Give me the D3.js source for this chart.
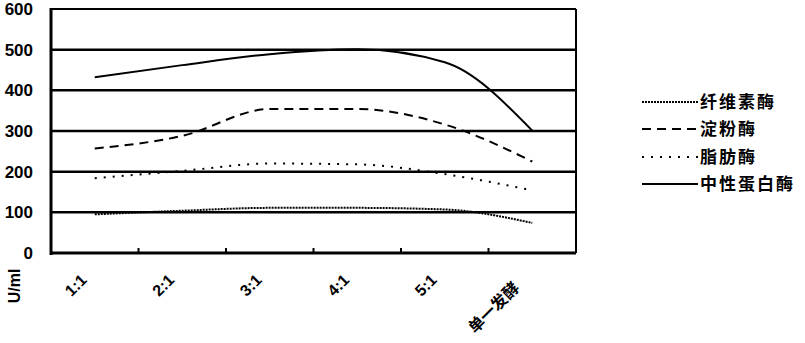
<!DOCTYPE html>
<html>
<head>
<meta charset="utf-8">
<script src="https://cdn.jsdelivr.net/npm/d3@7"></script>
<style>
  body { margin: 0; background: #fff; }
  svg { display: block; }
  text { font-family: "Liberation Sans", Arial, sans-serif; font-weight: bold; fill: #000; }
  .cjk { font-family: "Noto Sans CJK SC", sans-serif; }
</style>
</head>
<body>
<div id="chart"></div>
<script>
const categories = ["1:1", "2:1", "3:1", "4:1", "5:1", "单一发酵"];
const yTicks = [0, 100, 200, 300, 400, 500, 600];

const cellulase = [95, 104, 111, 111, 107, 74];
const amylase = [257, 288, 354, 354, 316, 225];
const lipase = [184, 202, 220, 218, 194, 154];
const protease = [432, 462, 489, 501, 469, 301];

const series = [
  { name: "纤维素酶", values: cellulase, dash: "2,1", width: 2 },
  { name: "淀粉酶", values: amylase, dash: "9,6", width: 2 },
  { name: "脂肪酶", values: lipase, dash: "2,7", width: 2 },
  { name: "中性蛋白酶", values: protease, dash: null, width: 2 }
];

const width = 805, height = 343;
const plotLeft = 51, plotRight = 576, plotTop = 9, plotBottom = 253;

const svg = d3.select("#chart").append("svg")
  .attr("width", width).attr("height", height);

const x = d3.scaleBand().domain(categories).range([plotLeft, plotRight]);
const y = d3.scaleLinear().domain([0, 600]).range([plotBottom, plotTop]);
const cx = (d) => x(d) + x.bandwidth() / 2;

// gridlines
svg.selectAll(".grid").data(yTicks.filter((t) => t > 0 && t < 600))
  .enter().append("line")
  .attr("x1", plotLeft).attr("x2", plotRight)
  .attr("y1", (d) => y(d)).attr("y2", (d) => y(d))
  .attr("stroke", "#000").attr("stroke-width", 2.5);

// plot frame
svg.append("line").attr("x1", plotLeft).attr("x2", plotRight)
  .attr("y1", y(600)).attr("y2", y(600))
  .attr("stroke", "#000").attr("stroke-width", 2);
svg.append("line").attr("x1", plotRight).attr("x2", plotRight)
  .attr("y1", y(600)).attr("y2", plotBottom)
  .attr("stroke", "#000").attr("stroke-width", 2);

// y axis
svg.append("line").attr("x1", plotLeft).attr("x2", plotLeft)
  .attr("y1", plotTop - 1).attr("y2", plotBottom + 2)
  .attr("stroke", "#000").attr("stroke-width", 3);
svg.selectAll(".ylab").data(yTicks).enter().append("text")
  .attr("x", 33).attr("y", (d) => y(d) + 6)
  .attr("text-anchor", "end")
  .style("font-size", "17px")
  .text((d) => d);

svg.append("text")
  .attr("transform", "translate(20,286) rotate(-90)")
  .attr("text-anchor", "middle")
  .style("font-size", "16px")
  .text("U/ml");

// x axis
svg.append("line").attr("x1", plotLeft).attr("x2", plotRight)
  .attr("y1", plotBottom).attr("y2", plotBottom)
  .attr("stroke", "#000").attr("stroke-width", 3);
svg.selectAll(".xtick").data(categories.slice(1)).enter().append("line")
  .attr("x1", (d) => x(d)).attr("x2", (d) => x(d))
  .attr("y1", plotBottom).attr("y2", plotBottom - 5)
  .attr("stroke", "#000").attr("stroke-width", 2);
svg.selectAll(".xlab").data(categories).enter().append("text")
  .attr("class", (d, i) => (i === 5 ? "cjk" : null))
  .attr("transform", (d, i) => i === 5
    ? `translate(${cx(d) - 12},${plotBottom + 36}) rotate(-45)`
    : `translate(${cx(d) - 7},${plotBottom + 28}) rotate(-45)`)
  .attr("text-anchor", "end")
  .style("font-size", "16px")
  .text((d) => d);

// lines
const line = d3.line()
  .x((d, i) => cx(categories[i]))
  .y((d) => y(d))
  .curve(d3.curveMonotoneX);

series.forEach((s) => {
  svg.append("path")
    .datum(s.values)
    .attr("d", line)
    .attr("fill", "none")
    .attr("stroke", "#000")
    .attr("stroke-width", s.width)
    .attr("stroke-dasharray", s.dash);
});

// legend
const legendY = [102, 129, 157, 184];
series.forEach((s, i) => {
  svg.append("line")
    .attr("x1", 642).attr("x2", 698)
    .attr("y1", legendY[i]).attr("y2", legendY[i])
    .attr("stroke", "#000").attr("stroke-width", s.width)
    .attr("stroke-dasharray", s.dash);
  svg.append("text")
    .attr("class", "cjk")
    .attr("x", 700).attr("y", legendY[i] + 6)
    .style("font-size", "17px")
    .style("letter-spacing", "2px")
    .text(s.name);
});
</script>
</body>
</html>
